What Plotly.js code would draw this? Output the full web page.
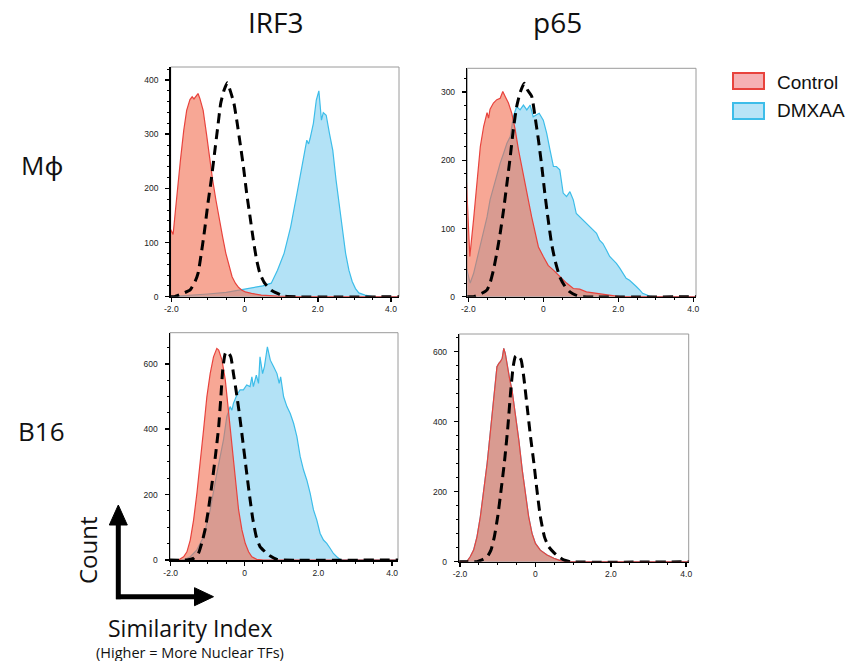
<!DOCTYPE html>
<html>
<head>
<meta charset="utf-8">
<script src="https://cdn.plot.ly/plotly-3.0.1.min.js"></script>
<style>html,body{margin:0;padding:0;background:#fff;}#chart{width:853px;height:661px;}</style>
</head>
<body>
<div id="chart"></div>
<script>
// ---------- tick labels ----------
const xTickVals = [-2, 0, 2, 4];
const xTickText = ['-2.0', '0', '2.0', '4.0'];
const yTicksIrf3Mac = [0, 100, 200, 300, 400];
const yTicksP65Mac = [0, 100, 200, 300];
const yTicksIrf3B16 = [0, 200, 400, 600];
const yTicksP65B16 = [0, 200, 400, 600];

const columnTitles = ['IRF3', 'p65'];
const rowTitles = ['M\u03D5', 'B16'];
const seriesNames = ['Control', 'DMXAA'];

// ---------- IRF3 / Mphi ----------
const ctrlIrf3MacX = [-2.05,-2.0,-1.95,-1.9,-1.84,-1.75,-1.66,-1.58,-1.49,-1.43,-1.38,-1.31,-1.27,-1.22,-1.13,-1.04,-0.96,-0.87,-0.78,-0.69,-0.60,-0.51,-0.42,-0.34,-0.25,-0.16,-0.07,0.02,0.19,0.46,0.90,1.5,4.3];
const ctrlIrf3MacY = [128,120,115,150,195,252,307,344,364,369,365,372,375,366,344,301,258,215,178,141,111,80,55,37,25,17,12,9,6,3,1,0,0];
const dmxIrf3MacX = [-2.05,-1.5,-1.0,-0.5,0.0,0.2,0.5,0.73,0.90,1.08,1.26,1.43,1.61,1.70,1.75,1.79,1.88,1.96,2.03,2.10,2.15,2.19,2.23,2.32,2.41,2.50,2.58,2.67,2.76,2.85,2.94,3.03,3.12,3.29,3.5,4.3];
const dmxIrf3MacY = [0,2,5,8,14,17,20,25,49,80,129,190,252,289,282,292,320,363,380,326,340,338,335,301,270,215,172,123,80,49,28,15,7,3,0,0];
const refIrf3MacX = [-2.05,-1.93,-1.62,-1.49,-1.35,-1.27,-1.18,-1.09,-1.0,-0.91,-0.82,-0.73,-0.65,-0.56,-0.47,-0.38,-0.29,-0.20,-0.12,-0.03,0.06,0.15,0.24,0.33,0.42,0.55,0.73,0.90,1.08,4.3];
const refIrf3MacY = [0,0,8,12,28,43,80,123,172,215,264,314,357,381,395,378,357,320,283,240,190,148,105,68,43,25,12,6,1,0];

// ---------- p65 / Mphi ----------
const ctrlP65MacX = [-2.06,-1.96,-1.86,-1.77,-1.68,-1.59,-1.50,-1.46,-1.42,-1.33,-1.24,-1.15,-1.08,-1.02,-0.93,-0.84,-0.75,-0.66,-0.58,-0.49,-0.40,-0.31,-0.22,-0.13,0,0.13,0.27,0.44,0.62,0.80,0.97,1.15,1.42,1.68,2.04,4.2];
const ctrlP65MacY = [181,59,113,166,220,250,270,262,275,284,289,291,301,294,284,269,245,215,191,166,142,117,93,73,59,46,39,29,20,12,11,7,5,2,0,0];
const dmxP65MacX = [-2.06,-1.95,-1.86,-1.77,-1.68,-1.59,-1.50,-1.42,-1.33,-1.24,-1.15,-1.06,-0.97,-0.88,-0.80,-0.71,-0.62,-0.53,-0.44,-0.35,-0.27,-0.18,-0.11,0,0.09,0.18,0.27,0.35,0.44,0.53,0.62,0.71,0.80,0.88,0.97,1.06,1.15,1.24,1.33,1.42,1.50,1.59,1.68,1.77,1.86,1.95,2.04,2.12,2.21,2.30,2.39,2.48,2.57,2.65,2.83,2.92,4.2];
const dmxP65MacY = [44,20,34,54,73,93,117,142,161,181,196,210,225,235,264,279,274,281,274,281,264,267,269,259,240,215,191,191,186,152,147,154,142,122,117,113,108,103,98,93,83,78,69,59,54,49,42,34,27,24,20,15,10,5,1,0,0];
const refP65MacX = [-2.06,-1.86,-1.64,-1.50,-1.42,-1.33,-1.24,-1.15,-1.06,-0.97,-0.88,-0.80,-0.71,-0.62,-0.51,-0.42,-0.31,-0.22,-0.13,-0.04,0.04,0.13,0.22,0.31,0.44,0.58,0.71,0.88,1.06,4.2];
const refP65MacY = [0,0,5,10,20,39,64,93,127,166,206,245,279,299,313,303,294,264,230,191,152,113,78,54,29,15,7,2,0,0];

// ---------- IRF3 / B16 ----------
const ctrlIrf3B16X = [-2.05,-1.79,-1.65,-1.56,-1.47,-1.38,-1.29,-1.20,-1.11,-1.02,-0.93,-0.84,-0.75,-0.70,-0.61,-0.52,-0.43,-0.34,-0.25,-0.16,-0.07,0.02,0.11,0.20,0.33,0.51,4.3];
const ctrlIrf3B16Y = [0,0,10,25,61,122,204,295,397,499,570,621,647,642,611,550,448,346,244,153,92,51,25,10,2,0,0];
const dmxIrf3B16X = [-2.05,-1.65,-1.47,-1.29,-1.11,-0.93,-0.75,-0.57,-0.48,-0.42,-0.39,-0.34,-0.30,-0.21,-0.12,-0.03,0.06,0.15,0.20,0.24,0.32,0.38,0.42,0.49,0.54,0.62,0.70,0.79,0.88,0.94,0.98,1.06,1.15,1.24,1.33,1.42,1.51,1.60,1.69,1.78,1.87,1.96,2.05,2.14,2.23,2.32,2.41,2.50,2.59,2.68,4.3];
const dmxIrf3B16Y = [0,0,10,31,71,153,265,367,438,458,469,458,479,504,520,520,535,530,560,530,565,540,621,570,591,652,611,591,570,540,560,499,469,448,418,377,316,275,244,204,153,122,81,61,51,36,20,10,2,0,0];
const refIrf3B16X = [-2.05,-1.56,-1.38,-1.25,-1.16,-1.07,-0.98,-0.88,-0.79,-0.70,-0.64,-0.59,-0.52,-0.46,-0.37,-0.30,-0.23,-0.14,-0.05,0.05,0.14,0.23,0.32,0.42,0.56,0.70,0.88,1.06,4.3];
const refIrf3B16Y = [0,0,5,20,51,92,153,234,316,407,499,581,632,637,621,570,520,448,367,275,194,122,71,41,25,12,2,0,0];

// ---------- p65 / B16 ----------
const ctrlP65B16X = [-2.05,-1.81,-1.73,-1.64,-1.55,-1.46,-1.37,-1.28,-1.19,-1.11,-1.02,-0.97,-0.93,-0.88,-0.84,-0.80,-0.73,-0.68,-0.62,-0.53,-0.44,-0.35,-0.27,-0.18,-0.09,0,0.13,0.31,0.49,0.66,0.84,4.2];
const ctrlP65B16Y = [0,2,14,33,71,129,205,281,376,471,557,566,571,581,609,595,547,519,490,424,347,262,195,129,81,52,33,19,10,3,0,0];
const dmxP65B16X = [-2.05,-1.81,-1.73,-1.64,-1.55,-1.46,-1.37,-1.28,-1.19,-1.11,-1.02,-0.97,-0.93,-0.88,-0.84,-0.80,-0.73,-0.68,-0.62,-0.53,-0.44,-0.35,-0.27,-0.18,-0.09,0,0.13,0.31,0.49,0.66,0.84,4.2];
const dmxP65B16Y = [0,2,14,33,71,129,205,281,376,471,557,566,571,581,609,595,547,519,490,424,347,262,195,129,81,52,33,19,10,3,0,0];
const refP65B16X = [-2.05,-1.55,-1.42,-1.28,-1.18,-1.09,-1.0,-0.91,-0.82,-0.73,-0.66,-0.59,-0.53,-0.47,-0.38,-0.31,-0.22,-0.13,-0.04,0.04,0.13,0.24,0.35,0.49,0.62,0.75,0.93,4.2];
const refP65B16Y = [0,0,5,14,33,71,129,205,286,386,481,557,586,590,576,528,443,357,281,205,129,71,43,26,14,5,0,0];

// ---------- styles ----------
const W = 853, H = 661;
const px = v => v / W;
const py = v => 1 - v / H;
const RED = '#e8433d', RED_FILL = 'rgba(242,108,78,0.6)';
const BLUE = '#3dbde9', BLUE_FILL = '#b3e2f6';
const TICK_FONT = {family: 'Liberation Sans, Arial, sans-serif', size: 8.5, color: '#222'};
const TEXT_FONT = 'Open Sans, Noto Sans, sans-serif';

const panels = [
  {ax: '', c: [ctrlIrf3MacX, ctrlIrf3MacY], d: [dmxIrf3MacX, dmxIrf3MacY], r: [refIrf3MacX, refIrf3MacY]},
  {ax: '2', c: [ctrlP65MacX, ctrlP65MacY], d: [dmxP65MacX, dmxP65MacY], r: [refP65MacX, refP65MacY]},
  {ax: '3', c: [ctrlIrf3B16X, ctrlIrf3B16Y], d: [dmxIrf3B16X, dmxIrf3B16Y], r: [refIrf3B16X, refIrf3B16Y]},
  {ax: '4', c: [ctrlP65B16X, ctrlP65B16Y], d: [dmxP65B16X, dmxP65B16Y], r: [refP65B16X, refP65B16Y]}
];

const traces = [];
panels.forEach(p => {
  const xa = 'x' + p.ax, ya = 'y' + p.ax;
  traces.push({x: p.d[0], y: p.d[1], xaxis: xa, yaxis: ya, type: 'scatter', mode: 'lines',
    name: seriesNames[1], fill: 'tozeroy', fillcolor: BLUE_FILL, line: {color: BLUE, width: 1.2}, showlegend: false});
  traces.push({x: p.c[0], y: p.c[1], xaxis: xa, yaxis: ya, type: 'scatter', mode: 'lines',
    name: seriesNames[0], fill: 'tozeroy', fillcolor: RED_FILL, line: {color: RED, width: 1.2}, showlegend: false});
  traces.push({x: p.r[0], y: p.r[1], xaxis: xa, yaxis: ya, type: 'scatter', mode: 'lines',
    name: 'reference', line: {color: '#000', width: 3, dash: '10px,6px', shape: 'spline', smoothing: 0.5}, showlegend: false});
});

function xAxis(dom, rng, anchor) {
  return {domain: dom, range: rng, anchor: anchor, showgrid: false, zeroline: false,
    showline: true, linecolor: '#000', linewidth: 1.5,
    ticks: 'outside', ticklen: 4, tickwidth: 1.5, tickcolor: '#000',
    tickvals: xTickVals, ticktext: xTickText, tickfont: TICK_FONT,
    minor: {dtick: 0.5, tick0: 0, ticks: 'outside', ticklen: 2, tickwidth: 1, tickcolor: '#000'},
    fixedrange: true};
}
function yAxis(dom, rng, anchor, vals, minorStep) {
  return {domain: dom, range: rng, anchor: anchor, showgrid: false, zeroline: false,
    showline: true, linecolor: '#000', linewidth: 1.5,
    ticks: 'outside', ticklen: 4, tickwidth: 1.5, tickcolor: '#000',
    tickvals: vals, ticktext: vals.map(String), tickfont: TICK_FONT, ticklabelstandoff: 5,
    minor: {dtick: minorStep, tick0: 0, ticks: 'outside', ticklen: 2, tickwidth: 1, tickcolor: '#000'},
    fixedrange: true};
}

const shapes = [];
['', '2', '3', '4'].forEach(a => {
  shapes.push({type: 'rect', xref: 'x' + a + ' domain', yref: 'y' + a + ' domain', x0: 0, x1: 1, y0: 0, y1: 1,
    line: {color: '#9a9a9a', width: 1}, layer: 'below'});
});
// legend boxes
shapes.push({type: 'rect', xref: 'paper', yref: 'paper', x0: px(733), x1: px(764), y0: py(89), y1: py(73),
  line: {color: '#e8433d', width: 2}, fillcolor: '#f6b1b4'});
shapes.push({type: 'rect', xref: 'paper', yref: 'paper', x0: px(733), x1: px(764), y0: py(119), y1: py(103),
  line: {color: '#3dbde9', width: 2}, fillcolor: '#b8e4f7'});
// axis arrows
shapes.push({type: 'line', xref: 'paper', yref: 'paper', x0: px(118.3), x1: px(118.3), y0: py(599.2), y1: py(522),
  line: {color: '#000', width: 5}});
shapes.push({type: 'path', xref: 'paper', yref: 'paper', fillcolor: '#000', line: {color: '#000', width: 1},
  path: `M ${px(118.3)},${py(505)} L ${px(109.3)},${py(525)} L ${px(127.3)},${py(525)} Z`});
shapes.push({type: 'line', xref: 'paper', yref: 'paper', x0: px(116), x1: px(197), y0: py(596.7), y1: py(596.7),
  line: {color: '#000', width: 5}});
shapes.push({type: 'path', xref: 'paper', yref: 'paper', fillcolor: '#000', line: {color: '#000', width: 1},
  path: `M ${px(213.5)},${py(596.7)} L ${px(194.5)},${py(587.7)} L ${px(194.5)},${py(605.7)} Z`});

function txt(text, x, y, size, family, extra) {
  return Object.assign({text: text, x: px(x), y: py(y), xref: 'paper', yref: 'paper', showarrow: false,
    xanchor: 'center', yanchor: 'middle', font: {family: family, size: size, color: '#111'}}, extra || {});
}
const annotations = [
  txt(columnTitles[0], 276, 22, 28, TEXT_FONT),
  txt(columnTitles[1], 557, 22, 28, TEXT_FONT),
  txt(rowTitles[0], 42, 165, 26, TEXT_FONT),
  txt(rowTitles[1], 41, 431, 26, TEXT_FONT),
  txt(seriesNames[0], 775, 82, 19, 'Liberation Sans, Arial, sans-serif', {xanchor: 'left'}),
  txt(seriesNames[1], 775, 111, 19, 'Liberation Sans, Arial, sans-serif', {xanchor: 'left'}),
  txt('Count', 87, 550, 24, TEXT_FONT, {textangle: -90}),
  txt('Similarity Index', 190, 628, 23, TEXT_FONT),
  txt('(Higher = More Nuclear TFs)', 190, 652, 14.5, TEXT_FONT)
];

const layout = {
  width: W, height: H, margin: {l: 0, r: 0, t: 0, b: 0},
  paper_bgcolor: '#fff', plot_bgcolor: '#fff', showlegend: false,
  xaxis: xAxis([px(170.7), px(399)], [-2.016, 4.218], 'y'),
  yaxis: yAxis([py(296.7), py(67)], [0, 424], 'x', yTicksIrf3Mac, 20),
  xaxis2: xAxis([px(467.3), px(696)], [-2.027, 4.073], 'y2'),
  yaxis2: yAxis([py(296.7), py(68.3)], [0, 335], 'x2', yTicksP65Mac, 20),
  xaxis3: xAxis([px(170), px(398)], [-2.019, 4.16], 'y3'),
  yaxis3: yAxis([py(560), py(332.7)], [0, 695], 'x3', yTicksIrf3B16, 50),
  xaxis4: xAxis([px(459.3), px(688.7)], [-2.019, 4.066], 'y4'),
  yaxis4: yAxis([py(561.7), py(334)], [0, 650], 'x4', yTicksP65B16, 40),
  shapes: shapes, annotations: annotations
};

Plotly.newPlot('chart', traces, layout, {staticPlot: true, displayModeBar: false});
</script>
</body>
</html>
